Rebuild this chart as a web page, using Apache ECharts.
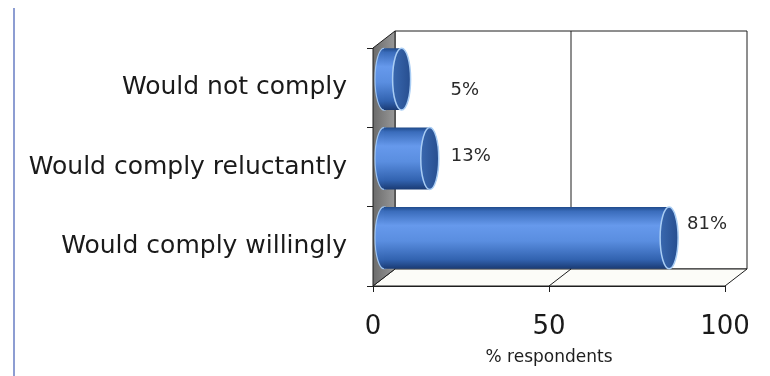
<!DOCTYPE html>
<html>
<head>
<meta charset="utf-8">
<script src="https://cdn.jsdelivr.net/npm/echarts@6/dist/echarts.min.js"></script>
<style>
  html, body { margin: 0; padding: 0; background: #ffffff; }
  #chart { width: 770px; height: 376px; }
</style>
</head>
<body>
<div id="chart"></div>
<script>
// Survey answers, top to bottom
const categories = ['Would not comply', 'Would comply reluctantly', 'Would comply willingly'];
const percentValues = [5, 13, 81];
const axisTicks = [0, 50, 100];
const axisTitle = '% respondents';

// Depth of the 3-D box (how far the back wall sits right and up)
const DEPTH_X = 22;
const DEPTH_Y = -17;
// Horizontal radius of the cylinder end caps
const CAP_RX = 9;
// Small per-label shifts for the value labels
const labelNudge = [[40, 11], [12, -2], [9, -14]];

const FONT = '"DejaVu Sans", "Lucida Grande", Verdana, sans-serif';
const LINE = '#1e1e1e';

const chart = echarts.init(document.getElementById('chart'), null, { renderer: 'canvas' });

// Box: floor, left wall, back wall and the back grid line
function renderFrame(params, api) {
  const cs = params.coordSys;
  const x0 = cs.x, x1 = cs.x + cs.width;
  const yt = cs.y, yb = cs.y + cs.height;
  const xm = api.coord([axisTicks[1], 0])[0];
  const dx = DEPTH_X, dy = DEPTH_Y;
  const wallFill = new echarts.graphic.LinearGradient(0, 0, 1, 0, [
    { offset: 0, color: '#6a6a6a' },
    { offset: 1, color: '#999999' }
  ]);
  return {
    type: 'group',
    children: [
      {
        type: 'rect',
        shape: { x: x0 + dx, y: yt + dy, width: x1 - x0, height: yb - yt },
        style: { fill: '#ffffff', stroke: LINE, lineWidth: 1 }
      },
      {
        type: 'polygon',
        shape: { points: [[x0, yb], [x1, yb], [x1 + dx, yb + dy], [x0 + dx, yb + dy]] },
        style: { fill: '#fcfcf8', stroke: LINE, lineWidth: 1 }
      },
      {
        type: 'polygon',
        shape: { points: [[x0, yt], [x0 + dx, yt + dy], [x0 + dx, yb + dy], [x0, yb]] },
        style: { fill: wallFill, stroke: LINE, lineWidth: 1 }
      },
      {
        type: 'line',
        shape: { x1: xm + dx, y1: yt + dy, x2: xm + dx, y2: yb + dy },
        style: { stroke: LINE, lineWidth: 1 }
      },
      {
        type: 'line',
        shape: { x1: xm, y1: yb, x2: xm + dx, y2: yb + dy },
        style: { stroke: LINE, lineWidth: 1 }
      }
    ]
  };
}

// Horizontal cylinder sitting halfway into the box depth
function renderCylinder(params, api) {
  const cat = api.value(0);
  const val = api.value(1);
  const p0 = api.coord([0, cat]);
  const p1 = api.coord([val, cat]);
  const band = api.size([0, 1])[1];
  const ry = band * 0.39;
  const ox = DEPTH_X / 2, oy = DEPTH_Y / 2;
  const sx = p0[0] + ox;
  const ex = p1[0] + ox;
  const cy = p0[1] + oy;
  const bodyFill = new echarts.graphic.LinearGradient(0, 0, 0, 1, [
    { offset: 0, color: '#1f4a8a' },
    { offset: 0.07, color: '#3a6cbb' },
    { offset: 0.3, color: '#6699ec' },
    { offset: 0.55, color: '#5a8ee0' },
    { offset: 0.85, color: '#3263b0' },
    { offset: 1, color: '#1a3b74' }
  ]);
  const capFill = new echarts.graphic.LinearGradient(0, 0, 1, 0, [
    { offset: 0, color: '#3a69b0' },
    { offset: 1, color: '#264d8e' }
  ]);
  const nudge = labelNudge[params.dataIndex] || [8, 0];
  return {
    type: 'group',
    children: [
      {
        type: 'ellipse',
        shape: { cx: sx, cy: cy, rx: CAP_RX, ry: ry },
        style: { fill: bodyFill, stroke: '#9fc3ee', lineWidth: 1.2 }
      },
      {
        type: 'rect',
        shape: { x: sx, y: cy - ry, width: Math.max(ex - sx, 0), height: ry * 2 },
        style: { fill: bodyFill }
      },
      {
        type: 'ellipse',
        shape: { cx: ex, cy: cy, rx: CAP_RX, ry: ry },
        style: { fill: capFill, stroke: '#a9cdf4', lineWidth: 1.5 }
      },
      {
        type: 'text',
        style: {
          text: val + '%',
          x: ex + CAP_RX + nudge[0],
          y: cy + nudge[1],
          verticalAlign: 'middle',
          align: 'left',
          fill: '#2a2a2a',
          fontSize: 18,
          fontFamily: FONT
        }
      }
    ]
  };
}

const barData = percentValues.map((v, i) => [i, v]);

chart.setOption({
  backgroundColor: '#ffffff',
  animation: false,
  graphic: [
    {
      type: 'rect',
      shape: { x: 13, y: 8, width: 2, height: 368 },
      style: { fill: '#8d9dd2' },
      z: 10
    }
  ],
  grid: {
    left: 373,
    top: 48,
    width: 352,
    height: 238,
    containLabel: false
  },
  xAxis: {
    type: 'value',
    min: axisTicks[0],
    max: axisTicks[axisTicks.length - 1],
    interval: axisTicks[1] - axisTicks[0],
    name: axisTitle,
    nameLocation: 'middle',
    nameGap: 63,
    nameTextStyle: { fontSize: 17, color: '#1e1e1e', fontFamily: FONT },
    axisLine: { show: true, lineStyle: { color: LINE, width: 1 } },
    axisTick: { show: true, length: 6, lineStyle: { color: LINE } },
    axisLabel: { fontSize: 26, color: '#1a1a1a', fontFamily: FONT, margin: 28 },
    splitLine: { show: false }
  },
  yAxis: {
    type: 'category',
    inverse: true,
    data: categories,
    axisLine: { show: true, lineStyle: { color: LINE, width: 1 } },
    axisTick: { show: true, length: 6, lineStyle: { color: LINE } },
    axisLabel: { fontSize: 25, color: '#1a1a1a', fontFamily: FONT, margin: 26, padding: [4, 0, 0, 0] },
    splitLine: { show: false }
  },
  series: [
    {
      type: 'custom',
      name: 'frame',
      data: [[0, 0]],
      renderItem: renderFrame,
      silent: true,
      z: 1
    },
    {
      type: 'custom',
      name: 'respondents',
      data: barData,
      encode: { x: 1, y: 0 },
      renderItem: renderCylinder,
      z: 3
    }
  ]
});
</script>
</body>
</html>
